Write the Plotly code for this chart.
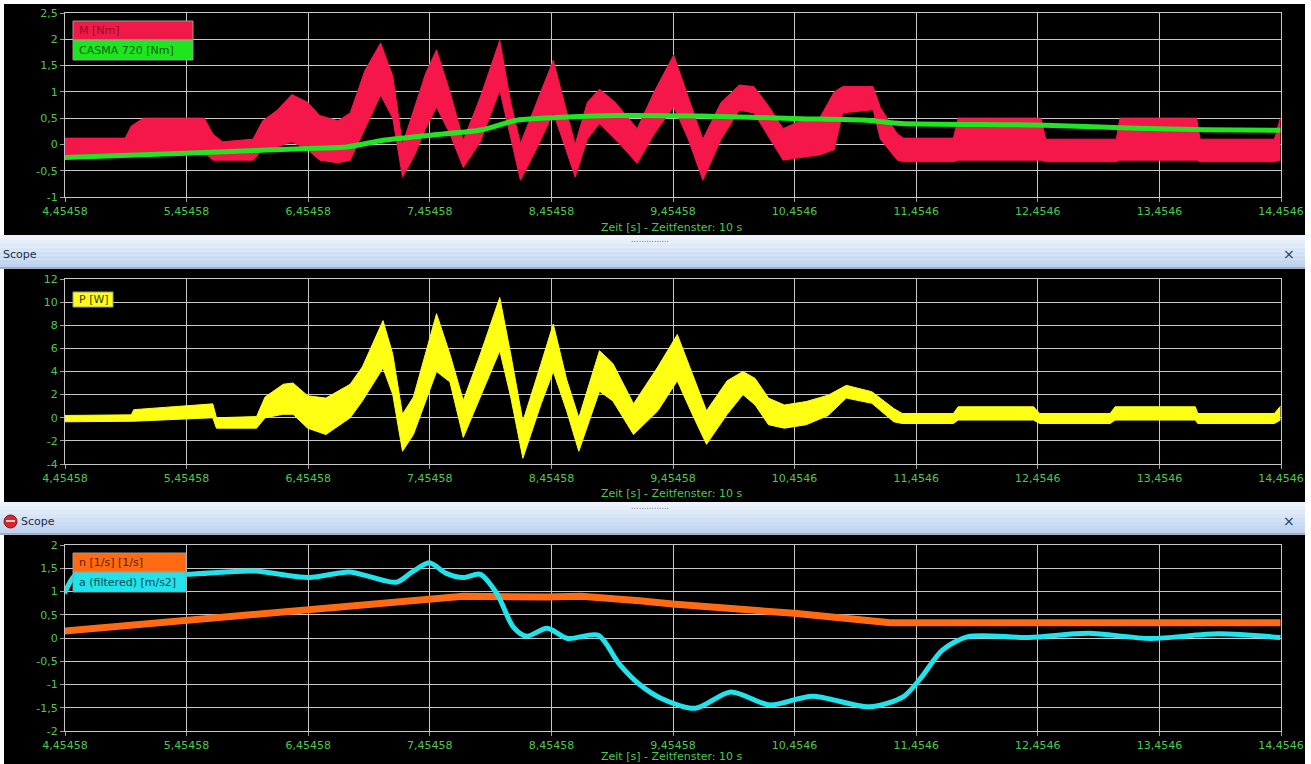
import plotly.graph_objects as go

W, H = 1311, 764

# ---------------- data ----------------
x_tickvals = [4.45458, 5.45458, 6.45458, 7.45458, 8.45458, 9.45458, 10.4546, 11.4546, 12.4546, 13.4546, 14.4546]
x_ticktext = ["4,45458", "5,45458", "6,45458", "7,45458", "8,45458", "9,45458", "10,4546", "11,4546", "12,4546", "13,4546", "14,4546"]

y1_tickvals = [-1, -0.5, 0, 0.5, 1, 1.5, 2, 2.5]
y1_ticktext = ["-1", "-0,5", "0", "0,5", "1", "1,5", "2", "2,5"]
y2_tickvals = [-4, -2, 0, 2, 4, 6, 8, 10, 12]
y2_ticktext = ["-4", "-2", "0", "2", "4", "6", "8", "10", "12"]
y3_tickvals = [-2, -1.5, -1, -0.5, 0, 0.5, 1, 1.5, 2]
y3_ticktext = ["-2", "-1,5", "-1", "-0,5", "0", "0,5", "1", "1,5", "2"]

# M [Nm] band: time, lower envelope, upper envelope
m_t = [4.45, 4.95, 5.0, 5.1, 5.6, 5.67, 5.75, 6.0, 6.08, 6.2, 6.32, 6.45, 6.55, 6.7, 6.8, 6.92,
       7.05, 7.15, 7.23, 7.33, 7.42, 7.51, 7.62, 7.73, 7.87, 8.03, 8.12, 8.2, 8.35, 8.47, 8.56,
       8.65, 8.75, 8.85, 8.98, 9.16, 9.3, 9.46, 9.58, 9.7, 9.85, 10.0, 10.12, 10.25, 10.36, 10.5,
       10.66, 10.78, 10.85, 11.1, 11.16, 11.3, 11.35, 11.76, 11.8, 12.48, 12.52, 13.1, 13.13,
       13.76, 13.79, 14.4, 14.45]
m_lo = [-0.22, -0.22, -0.2, -0.2, -0.15, -0.3, -0.3, -0.3, -0.1, -0.05, 0.05, -0.1, -0.3, -0.35, -0.3, 0.3,
        0.94, 0.5, -0.62, -0.2, 0.3, 0.71, 0.2, -0.44, 0.05, 1.03, 0.1, -0.68, 0.0, 0.6, 0.0,
        -0.62, 0.1, 0.4, 0.1, -0.36, 0.2, 0.72, 0.1, -0.68, 0.1, 0.65, 0.6, 0.1, -0.3, -0.25,
        -0.2, -0.1, 0.6, 0.66, 0.1, -0.3, -0.33, -0.33, -0.3, -0.3, -0.33, -0.33, -0.3,
        -0.3, -0.33, -0.33, -0.3]
m_hi = [0.12, 0.12, 0.35, 0.5, 0.5, 0.2, 0.05, 0.1, 0.45, 0.65, 0.95, 0.8, 0.55, 0.45, 0.6, 1.4,
        1.93, 1.3, 0.0, 0.7, 1.35, 1.8, 1.0, 0.08, 0.9, 1.98, 0.8, 0.02, 0.9, 1.6, 0.8,
        0.0, 0.8, 1.05, 0.8, 0.3, 1.0, 1.7, 0.9, 0.1, 0.8, 1.13, 1.1, 0.7, 0.3, 0.45,
        0.5, 1.0, 1.1, 1.1, 0.7, 0.2, 0.12, 0.12, 0.5, 0.5, 0.1, 0.1, 0.5,
        0.5, 0.1, 0.1, 0.5]

# CASMA 720 [Nm]
c_t = [4.45, 5.45, 6.4, 6.77, 7.07, 7.48, 7.89, 8.17, 8.58, 8.99, 9.68, 10.5, 11.05, 11.33, 12.44, 13.27, 13.83, 14.45]
c_v = [-0.25, -0.17, -0.08, -0.05, 0.08, 0.18, 0.28, 0.46, 0.52, 0.55, 0.54, 0.49, 0.46, 0.4, 0.37, 0.31, 0.28, 0.27]

# P [W] band
p_t = [4.45, 5.0, 5.02, 5.67, 5.7, 6.03, 6.1, 6.25, 6.33, 6.45, 6.6, 6.8, 6.9, 7.07, 7.15, 7.23,
       7.32, 7.51, 7.62, 7.73, 7.87, 8.03, 8.12, 8.22, 8.37, 8.47, 8.58, 8.68, 8.85, 8.96, 9.13,
       9.33, 9.49, 9.6, 9.73, 9.9, 10.03, 10.13, 10.24, 10.37, 10.55, 10.73, 10.88, 11.09, 11.27,
       11.34, 11.76, 11.8, 12.42, 12.47, 13.05, 13.09, 13.75, 13.77, 14.4, 14.45]
p_lo = [-0.35, -0.35, -0.3, 0.0, -0.9, -0.9, 0.0, 0.3, 0.3, -0.9, -1.45, 0.0, 1.45, 4.3, 2.0, -2.9,
        -1.45, 4.0, 3.1, -1.7, 1.8, 5.8, 1.8, -3.5, 1.2, 4.0, 0.6, -2.9, 2.3, 1.45, -1.45,
        0.6, 3.2, 0.6, -2.3, 0.3, 2.0, 1.1, -0.6, -0.9, -0.6, 0.2, 1.7, 1.25, -0.35,
        -0.5, -0.5, -0.2, -0.2, -0.5, -0.5, -0.2, -0.2, -0.5, -0.5, -0.2]
p_hi = [0.2, 0.25, 0.7, 1.2, 0.0, 0.1, 1.8, 2.9, 3.0, 1.9, 1.7, 2.9, 4.4, 8.4, 5.5, 0.3,
        1.8, 9.0, 5.5, 1.5, 5.5, 10.4, 5.5, -0.3, 4.7, 8.1, 3.3, 0.0, 5.8, 4.7, 1.2,
        4.4, 7.2, 4.1, 0.6, 3.2, 4.0, 3.4, 1.7, 1.1, 1.4, 1.95, 2.8, 2.25, 0.8,
        0.37, 0.37, 0.95, 0.95, 0.37, 0.37, 0.95, 0.95, 0.37, 0.37, 1.0]

# n [1/s]
n_t = [4.45, 5.45, 6.45, 7.03, 7.45, 7.73, 8.42, 8.7, 9.18, 9.45, 10.45, 11.24, 14.45]
n_v = [0.15, 0.37, 0.61, 0.72, 0.82, 0.9, 0.88, 0.9, 0.8, 0.73, 0.53, 0.33, 0.33]

# a (filtered) [m/s2]
a_t = [4.45, 4.53, 4.61, 4.96, 5.45, 6.0, 6.46, 6.79, 6.96, 7.18, 7.31, 7.45, 7.59, 7.73, 7.87,
       8.01, 8.14, 8.25, 8.42, 8.59, 8.84, 9.01, 9.18, 9.36, 9.64, 9.93, 10.25, 10.6, 11.07,
       11.35, 11.49, 11.67, 11.88, 12.38, 12.87, 13.38, 13.94, 14.45]
a_v = [0.96, 1.33, 1.42, 1.39, 1.37, 1.44, 1.3, 1.42, 1.32, 1.2, 1.42, 1.62, 1.39, 1.3, 1.37,
       0.94, 0.24, 0.04, 0.21, -0.01, 0.06, -0.55, -1.0, -1.3, -1.51, -1.16, -1.44, -1.25, -1.48,
       -1.26, -0.87, -0.26, 0.03, 0.01, 0.1, -0.01, 0.09, 0.01]

# ---------------- helpers ----------------
def PX(px):
    return px / W

def PY(py):
    return 1 - py / H

GREEN_TXT = "#4cc94c"
GRID = "#c8c8c8"
FONT = "DejaVu Sans"

fig = go.Figure()

def band(t, lo, hi, color, xa, ya):
    fig.add_trace(go.Scatter(x=t, y=lo, mode="lines", line=dict(color=color, width=1),
                             xaxis=xa, yaxis=ya, showlegend=False, hoverinfo="skip"))
    fig.add_trace(go.Scatter(x=t, y=hi, mode="lines", line=dict(color=color, width=1),
                             fill="tonexty", fillcolor=color,
                             xaxis=xa, yaxis=ya, showlegend=False, hoverinfo="skip"))

band(m_t, m_lo, m_hi, "#f5174a", "x", "y")
fig.add_trace(go.Scatter(x=c_t, y=c_v, mode="lines", line=dict(color="#22e422", width=5, shape="spline", smoothing=0.6),
                         xaxis="x", yaxis="y", showlegend=False))
band(p_t, p_lo, p_hi, "#ffff14", "x2", "y2")
fig.add_trace(go.Scatter(x=n_t, y=n_v, mode="lines", line=dict(color="#ff6a12", width=7),
                         xaxis="x3", yaxis="y3", showlegend=False))
fig.add_trace(go.Scatter(x=a_t, y=a_v, mode="lines", line=dict(color="#22e2ea", width=5, shape="spline", smoothing=0.8),
                         xaxis="x3", yaxis="y3", showlegend=False))

xdom = [PX(65), PX(1281)]

def xaxis_cfg(anchor):
    return dict(domain=xdom, anchor=anchor, range=[4.45458, 14.4546], automargin=False,
                tickvals=x_tickvals, ticktext=x_ticktext,
                tickfont=dict(family=FONT, size=11, color=GREEN_TXT),
                showgrid=True, gridcolor=GRID, gridwidth=1, zeroline=False,
                showline=True, linecolor=GRID, linewidth=1, mirror=True,
                ticks="outside", ticklen=4, tickcolor="#a0a0a0")

def yaxis_cfg(anchor, dom, rng, tv, tt):
    return dict(domain=dom, anchor=anchor, range=rng, tickvals=tv, ticktext=tt, automargin=False,
                tickfont=dict(family=FONT, size=11, color=GREEN_TXT),
                showgrid=True, gridcolor=GRID, gridwidth=1, zeroline=False,
                showline=True, linecolor=GRID, linewidth=1, mirror=True,
                ticks="outside", ticklen=4, tickcolor="#a0a0a0")

shapes = []
annotations = []

# black panel backgrounds
for (t0, t1) in [(4, 235), (269, 502), (535, 764)]:
    shapes.append(dict(type="rect", xref="paper", yref="paper", x0=PX(4), x1=PX(1305), y0=PY(t1), y1=PY(t0),
                       fillcolor="black", line=dict(width=0), layer="below"))

# header bars with gradient
grad = ["#eef3fb", "#e6eefa", "#dfe9f8", "#d8e5f6", "#d1e0f4", "#cadbf2", "#c4d7f0", "#bfd3ee"]
for (t0, t1) in [(235, 268), (502, 534)]:
    n = len(grad)
    h = (t1 - t0) / n
    for i, c in enumerate(grad):
        shapes.append(dict(type="rect", xref="paper", yref="paper", x0=PX(0), x1=PX(1305),
                           y0=PY(t0 + (i + 1) * h), y1=PY(t0 + i * h), fillcolor=c, line=dict(width=0), layer="below"))
    shapes.append(dict(type="line", xref="paper", yref="paper", x0=PX(0), x1=PX(1305), y0=PY(t1), y1=PY(t1),
                       line=dict(color="#8c9cb0", width=1.5), layer="below"))
    annotations.append(dict(xref="paper", yref="paper", x=PX(650), y=PY(t0 + 4), text="...............",
                            showarrow=False, font=dict(family=FONT, size=8, color="#6a7a90"), yanchor="middle"))
    annotations.append(dict(xref="paper", yref="paper", x=PX(1297), y=PY(t0 + 19), text="×",
                            showarrow=False, font=dict(family=FONT, size=14, color="#1e3a5e"), yanchor="middle"))

annotations.append(dict(xref="paper", yref="paper", x=PX(1), y=PY(254), text="Scope", xanchor="left",
                        showarrow=False, font=dict(family=FONT, size=11, color="#1e2e48"), yanchor="middle"))
annotations.append(dict(xref="paper", yref="paper", x=PX(19), y=PY(521), text="Scope", xanchor="left",
                        showarrow=False, font=dict(family=FONT, size=11, color="#1e2e48"), yanchor="middle"))
# red icon
shapes.append(dict(type="circle", xref="paper", yref="paper", x0=PX(4), x1=PX(17), y0=PY(528), y1=PY(515),
                   fillcolor="#d8262a", line=dict(color="#901515", width=1)))
shapes.append(dict(type="rect", xref="paper", yref="paper", x0=PX(6), x1=PX(15), y0=PY(522), y1=PY(520),
                   fillcolor="#f6d0d0", line=dict(width=0)))

# x axis titles
for py in [227, 493, 756]:
    annotations.append(dict(xref="paper", yref="paper", x=PX(672), y=PY(py), text="Zeit [s] - Zeitfenster: 10 s",
                            showarrow=False, font=dict(family=FONT, size=11, color=GREEN_TXT), yanchor="middle"))

# legend boxes
legend_items = [
    ("M [Nm]", 73, 193, 21, 40, "#f01a48", "#9a0a2a"),
    ("CASMA 720 [Nm]", 73, 193, 40, 60, "#1ee61e", "#156015"),
    ("P [W]", 73, 113, 292, 307, "#ffff14", "#3a3a00"),
    ("n [1/s] [1/s]", 73, 186, 553, 572, "#ff6a12", "#5a2200"),
    ("a (filtered) [m/s2]", 73, 186, 572, 592, "#22e2ea", "#0a4a55"),
]
for (txt, x0, x1, y0, y1, bg, fg) in legend_items:
    shapes.append(dict(type="rect", xref="paper", yref="paper", x0=PX(x0), x1=PX(x1), y0=PY(y1), y1=PY(y0),
                       fillcolor=bg, line=dict(color="#9a9a9a", width=1)))
    annotations.append(dict(xref="paper", yref="paper", x=PX(x0 + 4), y=PY((y0 + y1) / 2), text=txt,
                            xanchor="left", yanchor="middle", showarrow=False,
                            font=dict(family=FONT, size=11, color=fg)))

fig.update_layout(
    width=W, height=H, margin=dict(l=0, r=0, t=0, b=0, autoexpand=False),
    paper_bgcolor="white", plot_bgcolor="black", showlegend=False,
    xaxis=xaxis_cfg("y"), xaxis2=xaxis_cfg("y2"), xaxis3=xaxis_cfg("y3"),
    yaxis=yaxis_cfg("x", [PY(197), PY(13)], [-1, 2.5], y1_tickvals, y1_ticktext),
    yaxis2=yaxis_cfg("x2", [PY(464), PY(279)], [-4, 12], y2_tickvals, y2_ticktext),
    yaxis3=yaxis_cfg("x3", [PY(731), PY(545)], [-2, 2], y3_tickvals, y3_ticktext),
    shapes=shapes, annotations=annotations,
)

fig.write_html("out.html", config={"displayModeBar": False},
               post_script="document.body.style.margin='0';document.body.style.padding='0';document.body.style.overflow='hidden';")
